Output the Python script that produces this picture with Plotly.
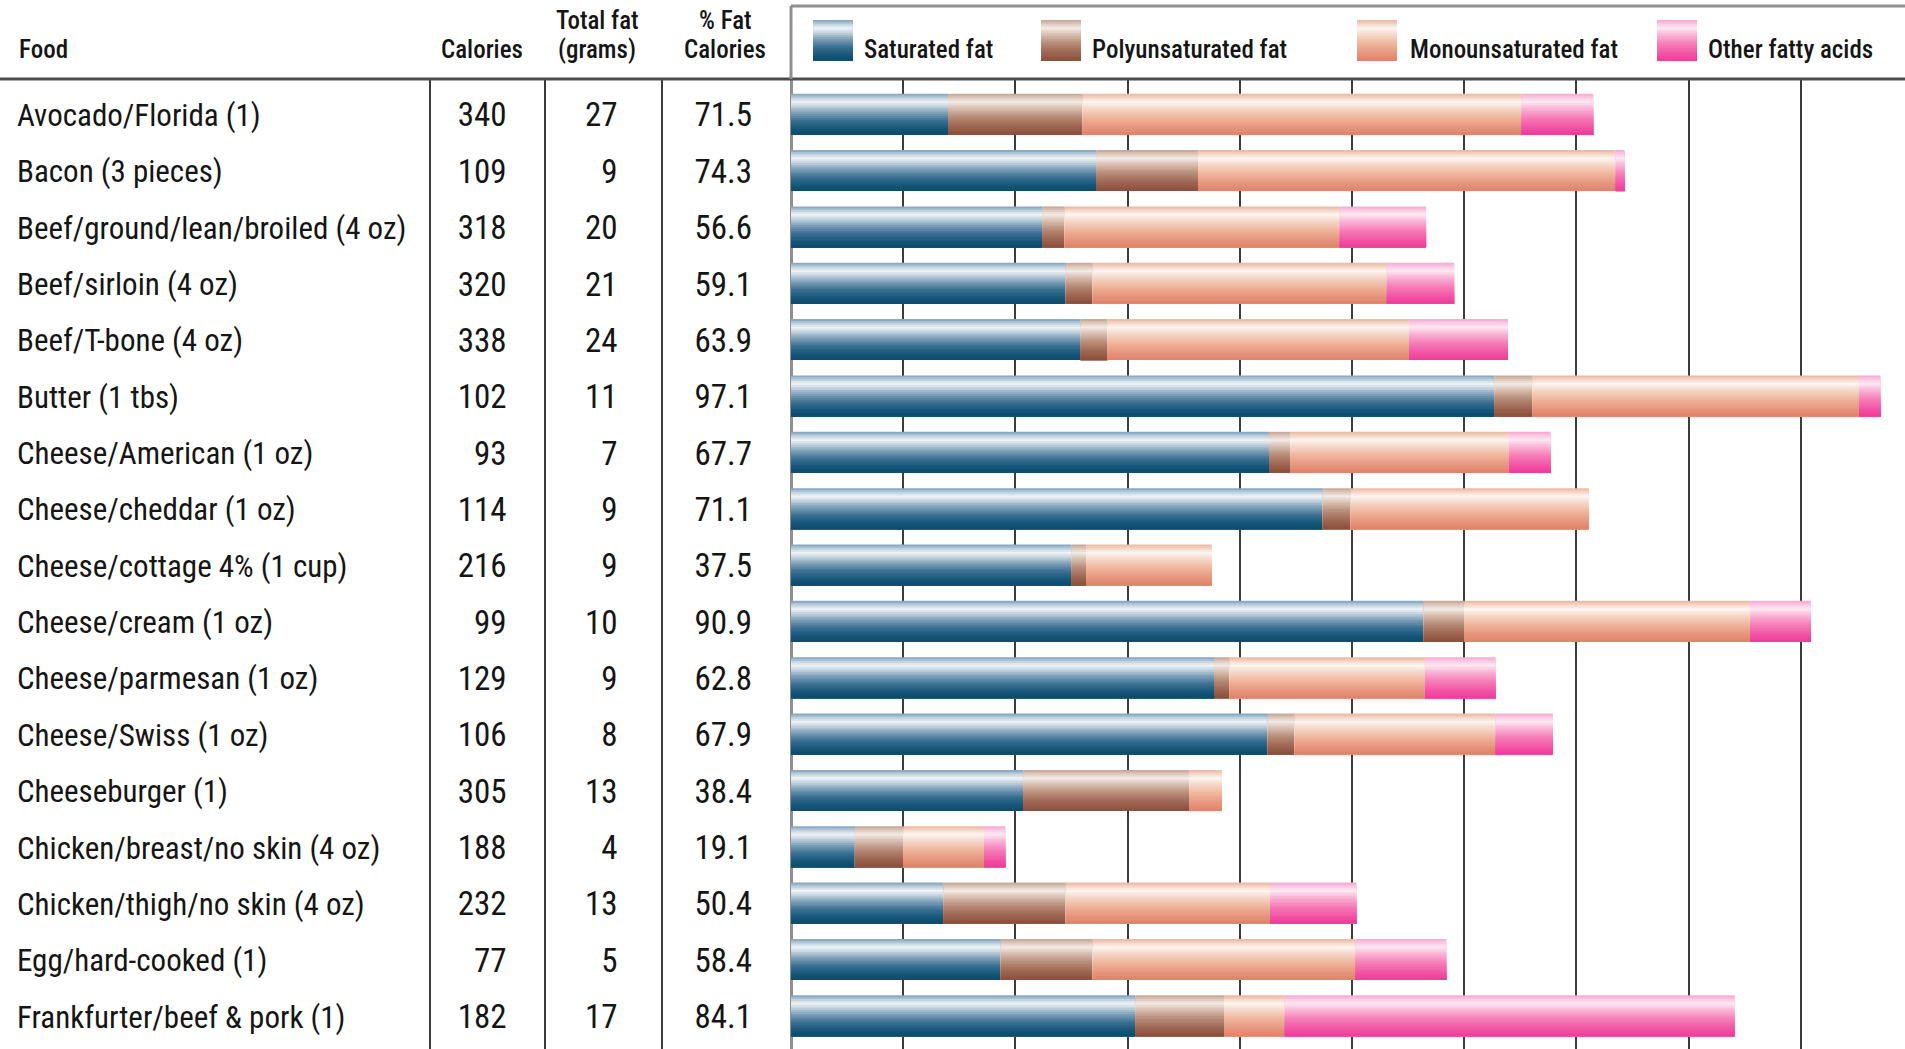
import plotly.graph_objects as go

# ---------------- data ----------------
foods = [
    "Avocado/Florida (1)", "Bacon (3 pieces)", "Beef/ground/lean/broiled (4 oz)",
    "Beef/sirloin (4 oz)", "Beef/T-bone (4 oz)", "Butter (1 tbs)",
    "Cheese/American (1 oz)", "Cheese/cheddar (1 oz)", "Cheese/cottage 4% (1 cup)",
    "Cheese/cream (1 oz)", "Cheese/parmesan (1 oz)", "Cheese/Swiss (1 oz)",
    "Cheeseburger (1)", "Chicken/breast/no skin (4 oz)", "Chicken/thigh/no skin (4 oz)",
    "Egg/hard-cooked (1)", "Frankfurter/beef & pork (1)",
]
calories = [340, 109, 318, 320, 338, 102, 93, 114, 216, 99, 129, 106, 305, 188, 232, 77, 182]
total_fat = [27, 9, 20, 21, 24, 11, 7, 9, 9, 10, 9, 8, 13, 4, 13, 5, 17]
pct_fat_calories = [71.5, 74.3, 56.6, 59.1, 63.9, 97.1, 67.7, 71.1, 37.5, 90.9, 62.8, 67.9,
                    38.4, 19.1, 50.4, 58.4, 84.1]

# share of calories (%) by fat type
saturated = [14.0, 27.2, 22.4, 24.5, 25.8, 62.7, 42.6, 47.4, 25.0, 56.4, 37.7, 42.5,
             20.7, 5.7, 13.6, 18.7, 30.7]
polyunsaturated = [12.0, 9.1, 2.0, 2.4, 2.4, 3.4, 1.9, 2.5, 1.3, 3.6, 1.4, 2.4,
                   14.8, 4.3, 10.9, 8.2, 7.9]
monounsaturated = [39.1, 37.2, 24.5, 26.2, 26.9, 29.1, 19.5, 21.2, 11.2, 25.5, 17.4, 17.9,
                   2.9, 7.2, 18.2, 23.4, 5.4]
other_fatty_acids = [6.4, 0.8, 7.7, 6.0, 8.8, 1.9, 3.7, 0.0, 0.0, 5.4, 6.3, 5.1,
                     0.0, 1.9, 7.7, 8.1, 40.1]

series_names = ["Saturated fat", "Polyunsaturated fat", "Monounsaturated fat", "Other fatty acids"]
series_values = [saturated, polyunsaturated, monounsaturated, other_fatty_acids]

# ---------------- styling / layout constants ----------------
W, H = 1905, 1049
HEADER_PX = 79
PLOT_LEFT_PX = 791
PX_PER_PCT = 11.22
ROW_PX = 56.35
FIRST_ROW_CENTER_PX = 114.2
TEXT_SHIFT_PX = 4.0
BAR_FRAC = 0.728
N_STRIPS = 22
FONT = "Roboto Condensed, DejaVu Sans Condensed, sans-serif"
TXT = "#151515"
NAME_SIZE = 31
NUM_SIZE = 33
HDR_SIZE = 25
LEG_SIZE = 25

GRADIENTS = [
    [(0.0, "#7a9fb8"), (0.09, "#b7cbd9"), (0.2, "#eef3f6"), (0.31, "#c3d3df"),
     (0.46, "#7fa1b9"), (0.66, "#3b7092"), (0.86, "#145678"), (1.0, "#0d4b6e")],
    [(0.0, "#c3a292"), (0.09, "#dcc6ba"), (0.2, "#f3ebe6"), (0.33, "#dcc5b8"),
     (0.55, "#b98f7b"), (0.8, "#9c6551"), (1.0, "#8b4f3b")],
    [(0.0, "#e9b49e"), (0.09, "#f4d3c5"), (0.2, "#fdf6f2"), (0.34, "#f6dacd"),
     (0.6, "#eeb298"), (0.85, "#e5917a"), (1.0, "#df8366")],
    [(0.0, "#f7a4cd"), (0.09, "#fbc8e2"), (0.2, "#fde8f3"), (0.34, "#fabad9"),
     (0.6, "#f57ab6"), (0.85, "#f24ea2"), (1.0, "#ef3c98")],
]


def _rgb(h):
    h = h.lstrip("#")
    return tuple(int(h[i:i + 2], 16) for i in (0, 2, 4))


def grad_color(stops, t):
    for (t0, c0), (t1, c1) in zip(stops[:-1], stops[1:]):
        if t <= t1:
            f = 0 if t1 == t0 else (t - t0) / (t1 - t0)
            a, b = _rgb(c0), _rgb(c1)
            return "rgb(%d,%d,%d)" % tuple(round(a[k] + (b[k] - a[k]) * f) for k in range(3))
    return stops[-1][1]


def py(px):  # pixel from top -> paper y
    return (H - px) / H


def pxx(px):  # pixel from left -> paper x
    return px / W


fig = go.Figure()

# ---------------- stacked gradient bars ----------------
cum = [0.0] * len(foods)
for s_idx, vals in enumerate(series_values):
    base = list(cum)
    for i in range(N_STRIPS):
        t = (i + 0.5) / N_STRIPS
        fig.add_trace(go.Bar(
            orientation="h", y=foods, x=vals, base=base,
            width=BAR_FRAC * (1 - i / N_STRIPS),
            offset=-BAR_FRAC / 2 + i * BAR_FRAC / N_STRIPS,
            marker=dict(color=grad_color(GRADIENTS[s_idx], t), line=dict(width=0)),
            name=series_names[s_idx], showlegend=False, hoverinfo="skip",
            xaxis="x", yaxis="y",
        ))
    cum = [c + v for c, v in zip(cum, vals)]

# ---------------- table columns ----------------
name_font = dict(family=FONT, size=NAME_SIZE, color=TXT)
num_font = dict(family=FONT, size=NUM_SIZE, color=TXT)
fig.add_trace(go.Scatter(x=[17] * len(foods), y=foods, text=foods, mode="text",
                         textposition="middle right", textfont=name_font,
                         xaxis="x2", yaxis="y2", hoverinfo="skip", showlegend=False))
fig.add_trace(go.Scatter(x=[506.5] * len(foods), y=foods, text=[str(v) for v in calories],
                         mode="text", textposition="middle left", textfont=num_font,
                         xaxis="x2", yaxis="y2", hoverinfo="skip", showlegend=False))
fig.add_trace(go.Scatter(x=[617.5] * len(foods), y=foods, text=[str(v) for v in total_fat],
                         mode="text", textposition="middle left", textfont=num_font,
                         xaxis="x2", yaxis="y2", hoverinfo="skip", showlegend=False))
fig.add_trace(go.Scatter(x=[752] * len(foods), y=foods,
                         text=["%.1f" % v for v in pct_fat_calories],
                         mode="text", textposition="middle left", textfont=num_font,
                         xaxis="x2", yaxis="y2", hoverinfo="skip", showlegend=False))

# ---------------- axes ----------------
plot_top = (H - HEADER_PX) / H
y_top = -(FIRST_ROW_CENTER_PX - HEADER_PX) / ROW_PX
y_bottom = (H - HEADER_PX) / ROW_PX + y_top
shift = TEXT_SHIFT_PX / ROW_PX

fig.update_layout(
    width=W, height=H, margin=dict(l=0, r=0, t=0, b=0, pad=0),
    paper_bgcolor="white", plot_bgcolor="white",
    barmode="overlay", showlegend=False,
    xaxis=dict(domain=[PLOT_LEFT_PX / W, 1], range=[0, (W - PLOT_LEFT_PX) / PX_PER_PCT],
               tick0=0, dtick=10, showgrid=True, gridcolor="#3c3c3c", gridwidth=1.6,
               zeroline=True, zerolinecolor="#8f8f8f", zerolinewidth=3,
               showticklabels=False, ticks="", anchor="y", fixedrange=True),
    xaxis2=dict(domain=[0, PLOT_LEFT_PX / W], range=[0, PLOT_LEFT_PX],
                tickvals=[430, 545, 662], showgrid=True, gridcolor="#3c3c3c", gridwidth=1.6,
                zeroline=False, showticklabels=False, ticks="", anchor="y", fixedrange=True),
    yaxis=dict(domain=[0, plot_top], type="category", categoryorder="array",
               categoryarray=foods, range=[y_bottom, y_top], showgrid=False,
               zeroline=False, showticklabels=False, ticks="", fixedrange=True),
    yaxis2=dict(domain=[0, plot_top], type="category", categoryorder="array",
                categoryarray=foods, range=[y_bottom - shift, y_top - shift], overlaying="y",
                showgrid=False, zeroline=False, showticklabels=False, ticks="",
                fixedrange=True, anchor="x2"),
)

shapes = [
    dict(type="line", xref="paper", yref="paper", x0=0, x1=1, y0=plot_top, y1=plot_top,
         line=dict(color="#4d4d4d", width=3), layer="above"),
    dict(type="line", xref="paper", yref="paper", x0=pxx(PLOT_LEFT_PX), x1=pxx(PLOT_LEFT_PX),
         y0=py(6), y1=plot_top, line=dict(color="#8f8f8f", width=3)),
    dict(type="line", xref="paper", yref="paper", x0=pxx(PLOT_LEFT_PX), x1=1,
         y0=py(6), y1=py(6), line=dict(color="#8f8f8f", width=3)),
]

# legend swatches (gradient strips)
legend_swatch_px = [813, 1041, 1357, 1657]
legend_text_px = [862, 1090, 1408, 1706]
SW_W, SW_TOP, SW_BOT = 40, 20, 61
for s_idx in range(4):
    x0 = legend_swatch_px[s_idx]
    for i in range(N_STRIPS):
        t = (i + 0.5) / N_STRIPS
        top = SW_TOP + (SW_BOT - SW_TOP) * i / N_STRIPS
        shapes.append(dict(type="rect", xref="paper", yref="paper",
                           x0=pxx(x0), x1=pxx(x0 + SW_W), y0=py(SW_BOT), y1=py(top),
                           fillcolor=grad_color(GRADIENTS[s_idx], t),
                           line=dict(width=0), layer="above"))
fig.update_layout(shapes=shapes)

annotations = []
for s_idx in range(4):
    annotations.append(dict(xref="paper", yref="paper", x=pxx(legend_text_px[s_idx]), y=py(50),
                            text=series_names[s_idx], showarrow=False, xanchor="left",
                            yanchor="middle",
                            font=dict(family=FONT, size=LEG_SIZE, color=TXT, weight=500)))

hdr_font = dict(family=FONT, size=HDR_SIZE, color=TXT, weight=500)
header_items = [
    ("Food", 17, 50, "left"),
    ("Calories", 482, 50, "center"),
    ("Total fat", 597, 21, "center"),
    ("(grams)", 597, 50, "center"),
    ("% Fat", 725, 21, "center"),
    ("Calories", 725, 50, "center"),
]
for txt, x, y, anc in header_items:
    annotations.append(dict(xref="paper", yref="paper", x=pxx(x), y=py(y), text=txt,
                            showarrow=False, xanchor=anc, yanchor="middle", font=hdr_font))
fig.update_layout(annotations=annotations)

fig.write_html("out.html", config={"displayModeBar": False})
